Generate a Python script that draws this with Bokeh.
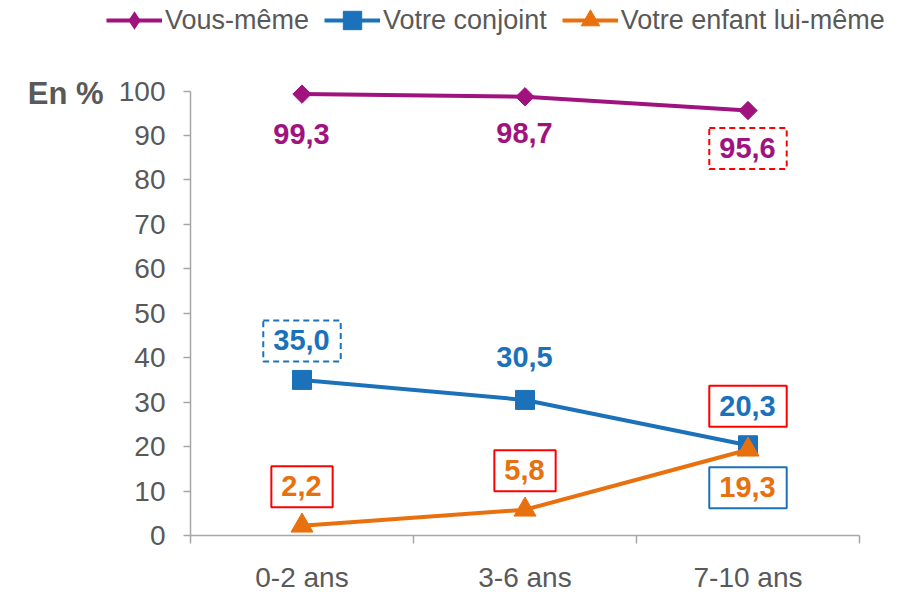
from math import pi
from bokeh.plotting import figure
from bokeh.models import (Range1d, FixedTicker, Label, Legend, LegendItem)
from bokeh.embed import file_html
from bokeh.resources import INLINE

# ---- data ----
categories = ["0-2 ans", "3-6 ans", "7-10 ans"]
vous_meme = [99.3, 98.7, 95.6]
conjoint = [35.0, 30.5, 20.3]
enfant = [2.2, 5.8, 19.3]
y_ticks = [0, 10, 20, 30, 40, 50, 60, 70, 80, 90, 100]
series_names = ["Vous-même", "Votre conjoint", "Votre enfant lui-même"]
y_unit = "En %"

# ---- style ----
MAGENTA = "#A0137F"
BLUE = "#1B72BA"
ORANGE = "#E8700E"
RED = "#FF0000"
GREY_TXT = "#595959"
AXIS_C = "#A6A6A6"
FONT = "Liberation Sans"

n = len(categories)
xs = [i + 0.5 for i in range(n)]

# the plotting frame fills the whole canvas; axes are drawn at fixed locations
W, H = 898, 592
px_x, px_y = 223.0, 4.445          # pixels per category / per percent
left_px, bottom_px = 190, 57       # axis positions from left / bottom edges
x_range = Range1d(-left_px / px_x, (W - left_px) / px_x)
y_range = Range1d(-bottom_px / px_y, (H - bottom_px) / px_y)

p = figure(width=W, height=H, output_backend="svg", toolbar_location=None,
           x_range=x_range, y_range=y_range,
           min_border_left=0, min_border_right=0,
           min_border_top=0, min_border_bottom=0)
p.outline_line_color = None
p.xgrid.visible = False
p.ygrid.visible = False
p.background_fill_color = "white"

# axes
p.yaxis.fixed_location = 0
p.yaxis.bounds = (y_ticks[0], y_ticks[-1])
p.yaxis.ticker = FixedTicker(ticks=y_ticks)
p.yaxis.axis_line_color = AXIS_C
p.yaxis.axis_line_width = 1.5
p.yaxis.major_tick_line_color = AXIS_C
p.yaxis.major_tick_line_width = 1.5
p.yaxis.major_tick_out = 7
p.yaxis.major_tick_in = 0
p.yaxis.minor_tick_line_color = None
p.yaxis.major_label_text_font = FONT
p.yaxis.major_label_text_font_size = "28px"
p.yaxis.major_label_text_color = GREY_TXT
p.yaxis.major_label_standoff = 18

p.xaxis.fixed_location = 0
p.xaxis.bounds = (0, n)
p.xaxis.ticker = FixedTicker(ticks=xs, minor_ticks=list(range(n + 1)))
p.xaxis.major_label_overrides = {x: c for x, c in zip(xs, categories)}
p.xaxis.axis_line_color = AXIS_C
p.xaxis.axis_line_width = 1.5
p.xaxis.major_tick_line_color = None
p.xaxis.minor_tick_line_color = AXIS_C
p.xaxis.minor_tick_line_width = 1.5
p.xaxis.minor_tick_out = 8
p.xaxis.minor_tick_in = 0
p.xaxis.major_label_text_font = FONT
p.xaxis.major_label_text_font_size = "28px"
p.xaxis.major_label_text_color = GREY_TXT
p.xaxis.major_label_standoff = 18

# series
l1 = p.line(xs, vous_meme, line_color=MAGENTA, line_width=4)
m1 = p.scatter(xs, vous_meme, marker="square", angle=pi / 4, size=13,
               fill_color=MAGENTA, line_color=MAGENTA)
# zero-size diamond: invisible on the chart, gives the legend its diamond key
m1_key = p.scatter(xs, vous_meme, marker="diamond", size=0,
                   fill_color=MAGENTA, line_color=None)
l2 = p.line(xs, conjoint, line_color=BLUE, line_width=4)
m2 = p.scatter(xs, conjoint, marker="square", size=19,
               fill_color=BLUE, line_color=BLUE)
l3 = p.line(xs, enfant, line_color=ORANGE, line_width=4)
m3 = p.scatter(xs, enfant, marker="triangle", size=22,
               fill_color=ORANGE, line_color=ORANGE)

legend = Legend(items=[LegendItem(label=series_names[0], renderers=[l1, m1_key]),
                       LegendItem(label=series_names[1], renderers=[l2, m2]),
                       LegendItem(label=series_names[2], renderers=[l3, m3])],
                orientation="horizontal", location=(106, H - 43),
                glyph_width=56, glyph_height=46, label_standoff=3, spacing=15,
                padding=0, margin=0, border_line_color=None,
                background_fill_alpha=0,
                label_text_font=FONT, label_text_font_size="27px",
                label_text_color=GREY_TXT, label_height=26)
p.add_layout(legend, "center")

# data labels: offsets in px (positive = below point), box styles
offsets = [[40, 37, 38], [-39, -42, -39], [-39, -39, 38]]
boxes = [[None, None, (RED, "6 4")],
         [(BLUE, "6 4"), None, (RED, "solid")],
         [(RED, "solid"), (RED, "solid"), (BLUE, "solid")]]
colors = [MAGENTA, BLUE, ORANGE]
for s, vals in enumerate([vous_meme, conjoint, enfant]):
    for i, v in enumerate(vals):
        txt = f"{v:.1f}".replace(".", ",")
        kw = dict(x=xs[i], y=v, text=txt, y_offset=-offsets[s][i],
                  text_align="center", text_baseline="middle",
                  text_font=FONT, text_font_size="29px", text_font_style="bold",
                  text_color=colors[s], padding=(10, 11, 10, 11))
        if boxes[s][i] is not None:
            c, d = boxes[s][i]
            kw.update(border_line_color=c, border_line_dash=d,
                      border_line_width=2, background_fill_color="white")
        p.add_layout(Label(**kw))

p.add_layout(Label(x=0, y=y_ticks[-1], x_offset=-87, y_offset=-2, text=y_unit,
                   text_align="right", text_baseline="middle", text_font=FONT,
                   text_font_size="31px", text_font_style="bold",
                   text_color=GREY_TXT))

open("out.html", "w").write(file_html(p, INLINE))
